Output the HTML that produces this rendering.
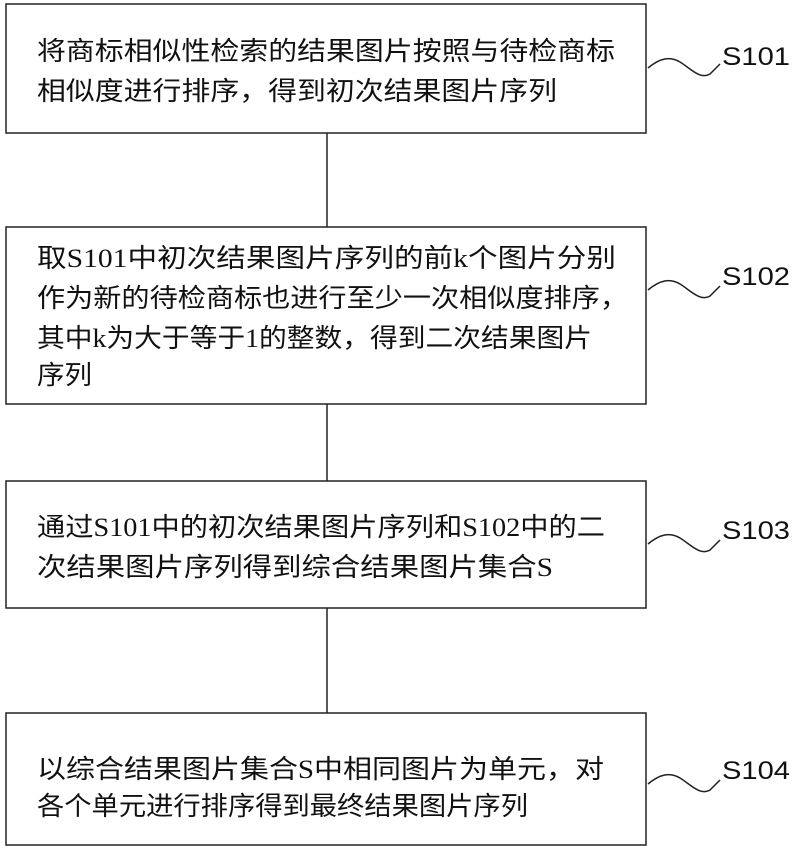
<!DOCTYPE html>
<html><head><meta charset="utf-8"><style>
html,body{margin:0;padding:0;background:#fff;}
svg{display:block;}
.t{font-family:"Liberation Serif","Noto Sans CJK SC",sans-serif;font-size:26px;fill:#111;}
.l{font-family:"Liberation Sans",sans-serif;font-size:25px;fill:#111;}
</style></head><body>
<svg width="795" height="850" viewBox="0 0 795 850" xmlns="http://www.w3.org/2000/svg">
<g fill="none" stroke="#222" stroke-width="1.5">
<rect x="6" y="4" width="640" height="129"/>
<rect x="6" y="227" width="640" height="177"/>
<rect x="6" y="481" width="640" height="127"/>
<rect x="6" y="713" width="640" height="132"/>
<line x1="327" y1="133" x2="327" y2="227"/>
<line x1="327" y1="404" x2="327" y2="481"/>
<line x1="327" y1="608" x2="327" y2="713"/>
<path d="M648 68 C660 58,670 56,680 62 S700 80,710 74 L720 64"/>
<path d="M648 290 C660 280,670 278,680 284 S700 302,710 296 L720 286"/>
<path d="M648 544 C660 534,670 532,680 538 S700 556,710 550 L720 540"/>
<path d="M648 784 C660 774,670 772,680 778 S700 796,710 790 L720 780"/>
</g>
<text class="t" x="37" y="60" textLength="578" lengthAdjust="spacingAndGlyphs">将商标相似性检索的结果图片按照与待检商标</text>
<text class="t" x="37" y="100" textLength="520" lengthAdjust="spacingAndGlyphs">相似度进行排序，得到初次结果图片序列</text>
<text class="t" x="37" y="267" textLength="579" lengthAdjust="spacingAndGlyphs">取S101中初次结果图片序列的前k个图片分别</text>
<text class="t" x="37" y="307" textLength="591" lengthAdjust="spacingAndGlyphs">作为新的待检商标也进行至少一次相似度排序，</text>
<text class="t" x="37" y="347" textLength="555" lengthAdjust="spacingAndGlyphs">其中k为大于等于1的整数，得到二次结果图片</text>
<text class="t" x="37" y="384" textLength="55" lengthAdjust="spacingAndGlyphs">序列</text>
<text class="t" x="37" y="536" textLength="568" lengthAdjust="spacingAndGlyphs">通过S101中的初次结果图片序列和S102中的二</text>
<text class="t" x="37" y="576" textLength="516" lengthAdjust="spacingAndGlyphs">次结果图片序列得到综合结果图片集合S</text>
<text class="t" x="37" y="778" textLength="567" lengthAdjust="spacingAndGlyphs">以综合结果图片集合S中相同图片为单元，对</text>
<text class="t" x="37" y="815" textLength="491" lengthAdjust="spacingAndGlyphs">各个单元进行排序得到最终结果图片序列</text>
<text class="l" x="722" y="65" textLength="68" lengthAdjust="spacingAndGlyphs">S101</text>
<text class="l" x="722" y="285" textLength="68" lengthAdjust="spacingAndGlyphs">S102</text>
<text class="l" x="722" y="539" textLength="68" lengthAdjust="spacingAndGlyphs">S103</text>
<text class="l" x="722" y="779" textLength="68" lengthAdjust="spacingAndGlyphs">S104</text>
</svg>
</body></html>
